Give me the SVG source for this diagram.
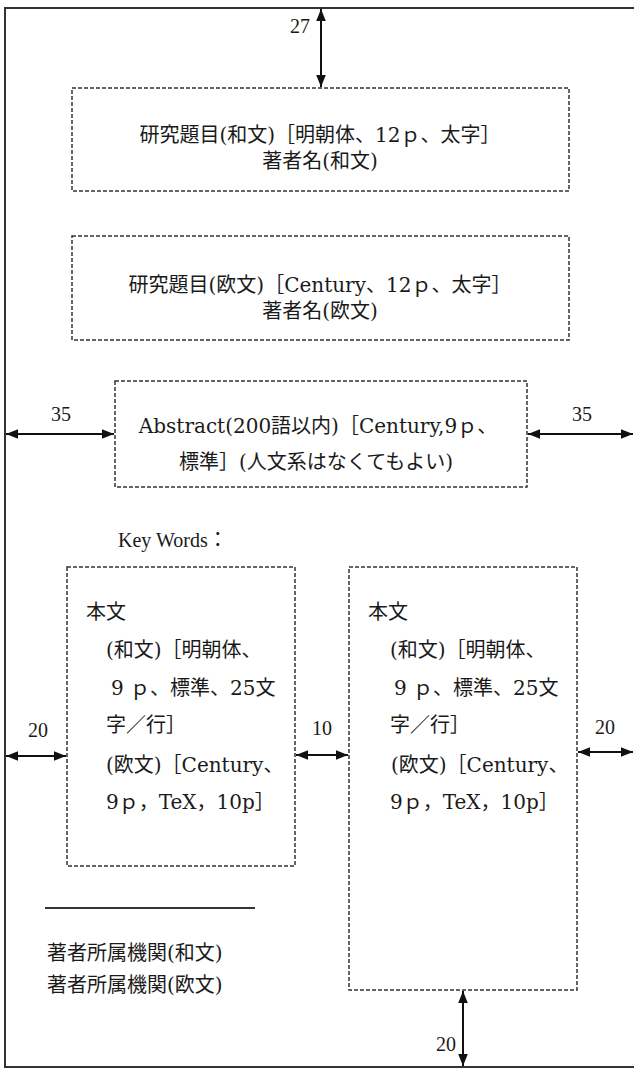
<svg xmlns="http://www.w3.org/2000/svg" width="634" height="1070" viewBox="0 0 634 1070">
<defs>
<style>
.box{fill:none;stroke:#333;stroke-width:1.5;stroke-dasharray:4 2}
.t{font-family:"DejaVu Serif","Noto Sans CJK JP",serif;font-size:20px;fill:#1a1a1a}
.c{text-anchor:middle}
.k{font-family:"Liberation Serif","Noto Sans CJK JP",serif;font-size:20px;fill:#1a1a1a}
.n{font-family:"Liberation Serif","Noto Sans CJK JP",serif;font-size:20px;fill:#1a1a1a;text-anchor:middle}
.dim{stroke:#111;stroke-width:2;fill:none;marker-start:url(#ah);marker-end:url(#ah)}
.frame{stroke:#333;stroke-width:2;fill:none}
</style>
<marker id="ah" viewBox="0 0 10 10" refX="10" refY="5" markerWidth="6" markerHeight="6" orient="auto-start-reverse" markerUnits="strokeWidth">
<path d="M0,1 L10,5 L0,9 Z" fill="#111"/>
</marker>
</defs>
<rect width="634" height="1070" fill="#fff"/>
<g id="page">
<path class="frame" d="M634,8 H5 V1067 H634"/>
</g>
<g id="box-title-ja">
<rect class="box" x="72" y="88" width="497" height="103"/>
<text class="t c" x="320" y="142">研究題目(和文)［明朝体、12ｐ、太字］</text>
<text class="t c" x="320" y="168">著者名(和文)</text>
</g>
<g id="box-title-en">
<rect class="box" x="72" y="236" width="497" height="104"/>
<text class="t c" x="320" y="292">研究題目(欧文)［Century、12ｐ、太字］</text>
<text class="t c" x="320" y="318">著者名(欧文)</text>
</g>
<g id="box-abstract">
<rect class="box" x="115" y="381" width="412" height="106"/>
<text class="t c" x="318" y="433">Abstract(200語以内)［Century,9ｐ、</text>
<text class="t c" x="316" y="469">標準］(人文系はなくてもよい)</text>
</g>
<g id="keywords">
<text class="k" x="118" y="547">Key Words：</text>
</g>
<g id="box-body-left">
<rect class="box" x="67" y="567" width="228" height="299"/>
<text class="t" x="86" y="619">本文</text>
<text class="t" x="106" y="657">(和文)［明朝体、</text>
<text class="t" x="111" y="695">9 ｐ、標準、25文</text>
<text class="t" x="106" y="732">字／行］</text>
<text class="t" x="106" y="772">(欧文)［Century、</text>
<text class="t" x="106" y="809">9ｐ，TeX，10p］</text>
</g>
<g id="box-body-right">
<rect class="box" x="349" y="567" width="228" height="423"/>
<text class="t" x="368" y="619">本文</text>
<text class="t" x="390" y="657">(和文)［明朝体、</text>
<text class="t" x="394" y="695">9 ｐ、標準、25文</text>
<text class="t" x="390" y="732">字／行］</text>
<text class="t" x="391" y="772">(欧文)［Century、</text>
<text class="t" x="390" y="809">9ｐ，TeX，10p］</text>
</g>
<g id="affiliation">
<line x1="45" y1="908" x2="255" y2="908" stroke="#333" stroke-width="2"/>
<text class="t" x="47" y="960">著者所属機関(和文)</text>
<text class="t" x="47" y="992">著者所属機関(欧文)</text>
</g>
<g id="connectors">
<line class="dim" x1="321" y1="9" x2="321" y2="87"/>
<line class="dim" x1="6" y1="434" x2="114" y2="434"/>
<line class="dim" x1="528" y1="434" x2="633" y2="434"/>
<line class="dim" x1="6" y1="756" x2="66" y2="756"/>
<line class="dim" x1="296" y1="755" x2="348" y2="755"/>
<line class="dim" x1="578" y1="752" x2="633" y2="752"/>
<line class="dim" x1="463" y1="991" x2="463" y2="1066"/>
</g>
<g id="labels">
<text class="n" x="300" y="33">27</text>
<text class="n" x="61" y="421">35</text>
<text class="n" x="582" y="421">35</text>
<text class="n" x="38" y="737">20</text>
<text class="n" x="322" y="735">10</text>
<text class="n" x="605" y="734">20</text>
<text class="n" x="446" y="1051">20</text>
</g>
</svg>
